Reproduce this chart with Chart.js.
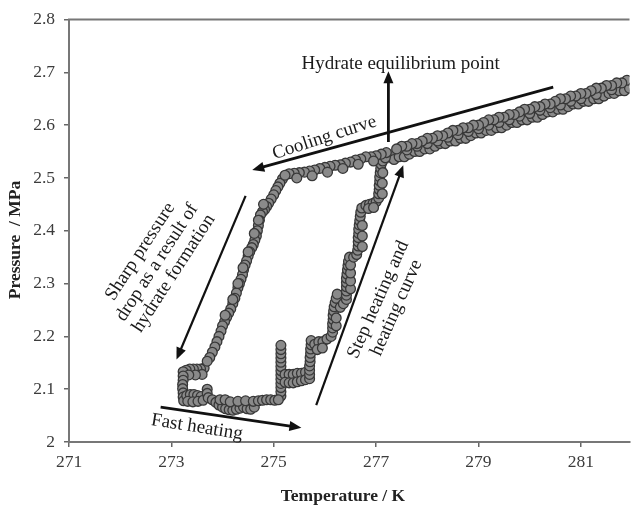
<!DOCTYPE html>
<html>
<head>
<meta charset="utf-8">
<script src="https://cdn.jsdelivr.net/npm/chart.js@4.4.1/dist/chart.umd.min.js"></script>
<style>
  body { margin: 0; background: #fff; }
  #chart { display: block; }
</style>
</head>
<body>
<canvas id="chart" width="637" height="507"></canvas>
<script>
// axis ticks
const xTicks = [271, 273, 275, 277, 279, 281];
const yTicks = [2, 2.1, 2.2, 2.3, 2.4, 2.5, 2.6, 2.7, 2.8];

// cooling: upper row of the band, then along 2.5 MPa to the corner
const coolingT = [281.9, 281.8, 281.7, 281.6, 281.5, 281.4, 281.3, 281.2, 281.1, 281.0,
  280.9, 280.8, 280.7, 280.6, 280.5, 280.4, 280.3, 280.2, 280.1, 280.0,
  279.9, 279.8, 279.7, 279.6, 279.5, 279.4, 279.3, 279.2, 279.1, 279.0,
  278.9, 278.8, 278.7, 278.6, 278.5, 278.4, 278.3, 278.2, 278.1, 278.0,
  277.9, 277.8, 277.7, 277.6, 277.5, 277.4,
  277.2, 277.1, 277.0, 276.9, 276.8, 276.7, 276.6, 276.5, 276.4, 276.3,
  276.2, 276.1, 276.0, 275.9, 275.8, 275.7, 275.6, 275.5, 275.4, 275.3, 275.22,
  276.95, 276.65, 276.35, 276.05, 275.75, 275.45];
const coolingP = [2.685, 2.68, 2.68, 2.675, 2.675, 2.67, 2.67, 2.665, 2.66, 2.66,
  2.655, 2.655, 2.65, 2.65, 2.645, 2.64, 2.64, 2.635, 2.635, 2.63,
  2.63, 2.625, 2.62, 2.62, 2.615, 2.615, 2.61, 2.61, 2.605, 2.6,
  2.6, 2.595, 2.595, 2.59, 2.59, 2.585, 2.58, 2.58, 2.575, 2.575,
  2.57, 2.565, 2.565, 2.56, 2.56, 2.555,
  2.548, 2.545, 2.542, 2.54, 2.54, 2.536, 2.534, 2.53, 2.528, 2.525,
  2.524, 2.522, 2.52, 2.518, 2.515, 2.513, 2.511, 2.51, 2.509, 2.508, 2.505,
  2.532, 2.526, 2.518, 2.511, 2.504, 2.5];

// sharp pressure drop (hydrate formation)
const dropT = [275.17, 275.12, 275.08, 275.04, 275.0, 274.95, 274.9, 274.86, 274.82, 274.78,
  274.74, 274.72, 274.7, 274.68, 274.66, 274.63, 274.6, 274.57, 274.53, 274.5,
  274.47, 274.44, 274.41, 274.39, 274.36, 274.33, 274.3, 274.27, 274.24, 274.2,
  274.16, 274.12, 274.08, 274.04, 274.0, 273.97, 273.93, 273.89, 273.85, 273.8,
  273.75, 273.7,
  274.8, 274.7, 274.62, 274.5, 274.4, 274.3, 274.2, 274.05];
const dropP = [2.498, 2.49, 2.483, 2.476, 2.468, 2.46, 2.452, 2.446, 2.44, 2.436,
  2.43, 2.42, 2.41, 2.4, 2.39, 2.382, 2.374, 2.368, 2.36, 2.352,
  2.343, 2.335, 2.326, 2.317, 2.308, 2.3, 2.292, 2.282, 2.272, 2.262,
  2.252, 2.244, 2.236, 2.228, 2.22, 2.21, 2.2, 2.19, 2.18, 2.17,
  2.16, 2.153,
  2.45, 2.42, 2.395, 2.36, 2.33, 2.3, 2.27, 2.24];

// low corner and fast heating along ~2.07 MPa
const fastT = [273.64, 273.57, 273.5, 273.43, 273.36, 273.29, 273.23,
  273.6, 273.47, 273.34,
  273.23, 273.23, 273.22, 273.22, 273.23, 273.23, 273.24,
  273.3, 273.37, 273.44, 273.51, 273.58,
  273.32, 273.42, 273.52, 273.62,
  273.7, 273.7, 273.72,
  273.8, 273.87, 273.93, 274.0, 274.06, 274.13, 274.2, 274.27, 274.34, 274.41, 274.48, 274.55, 274.62,
  273.95, 274.05, 274.15, 274.3, 274.45, 274.6, 274.7, 274.78, 274.86, 274.94, 275.02, 275.09];
const fastP = [2.14, 2.138, 2.138, 2.138, 2.138, 2.136, 2.133,
  2.128, 2.127, 2.127,
  2.125, 2.117, 2.109, 2.101, 2.093, 2.085, 2.078,
  2.088, 2.09, 2.09, 2.088, 2.086,
  2.077, 2.076, 2.077, 2.079,
  2.1, 2.092, 2.084,
  2.08, 2.075, 2.07, 2.066, 2.063, 2.061, 2.06, 2.062, 2.064, 2.066, 2.063, 2.062, 2.066,
  2.08, 2.08, 2.076, 2.077, 2.078, 2.077, 2.078, 2.079, 2.08, 2.08, 2.079, 2.08];

// step heating up to the equilibrium point
const stepT = [275.14, 275.14, 275.14, 275.14, 275.14, 275.14, 275.14, 275.14, 275.14, 275.14, 275.14, 275.14, 275.14,
  275.22, 275.3, 275.38, 275.46, 275.54, 275.62,
  275.22, 275.3, 275.38, 275.46, 275.54, 275.62,
  275.7, 275.7, 275.7, 275.7, 275.71, 275.71, 275.72, 275.72, 275.73, 275.73,
  275.8, 275.88, 275.96, 276.04, 276.12, 275.85, 275.95,
  276.15, 276.15, 276.15, 276.16, 276.16, 276.17, 276.18, 276.2, 276.22, 276.24, 276.22, 276.22,
  276.3, 276.36, 276.42, 276.42, 276.42, 276.42, 276.42, 276.42, 276.43, 276.44, 276.45, 276.46, 276.48,
  276.5, 276.5, 276.5, 276.5,
  276.56, 276.62, 276.64, 276.65, 276.65, 276.65, 276.66, 276.66, 276.67, 276.68, 276.69, 276.7, 276.72,
  276.73, 276.73, 276.73,
  276.8, 276.87, 276.94, 277.0, 276.85, 276.95,
  277.05, 277.05, 277.06, 277.06, 277.07, 277.07, 277.08, 277.09, 277.1, 277.13, 277.18,
  277.12, 277.12, 277.13];
const stepP = [2.087, 2.095, 2.103, 2.111, 2.119, 2.127, 2.135, 2.143, 2.151, 2.159, 2.167, 2.175, 2.183,
  2.128, 2.128, 2.128, 2.13, 2.13, 2.132,
  2.113, 2.112, 2.112, 2.114, 2.116, 2.118,
  2.12, 2.128, 2.136, 2.144, 2.152, 2.16, 2.168, 2.176, 2.184, 2.192,
  2.185, 2.19, 2.19, 2.195, 2.2, 2.175, 2.178,
  2.208, 2.216, 2.224, 2.232, 2.24, 2.248, 2.256, 2.264, 2.272, 2.28, 2.22, 2.235,
  2.255, 2.262, 2.27, 2.278, 2.286, 2.294, 2.302, 2.31, 2.318, 2.326, 2.334, 2.342, 2.35,
  2.29, 2.305, 2.32, 2.335,
  2.35, 2.355, 2.363, 2.371, 2.379, 2.387, 2.395, 2.403, 2.411, 2.419, 2.427, 2.435, 2.443,
  2.37, 2.39, 2.41,
  2.448, 2.45, 2.452, 2.455, 2.442, 2.444,
  2.462, 2.47, 2.478, 2.486, 2.494, 2.502, 2.51, 2.518, 2.526, 2.532, 2.538,
  2.47, 2.49, 2.51];

// heating curve: lower and middle rows of the band
const heatingT = [277.35, 277.45, 277.55, 277.65, 277.75, 277.85, 277.95, 278.05, 278.15, 278.25,
  278.35, 278.45, 278.55, 278.65, 278.75, 278.85, 278.95, 279.05, 279.15, 279.25,
  279.35, 279.45, 279.55, 279.65, 279.75, 279.85, 279.95, 280.05, 280.15, 280.25,
  280.35, 280.45, 280.55, 280.65, 280.75, 280.85, 280.95, 281.05, 281.15, 281.25,
  281.35, 281.45, 281.55, 281.65, 281.75, 281.85, 281.95,
  277.6, 277.8, 278.0, 278.2, 278.4, 278.6, 278.8, 279.0, 279.2, 279.4,
  279.6, 279.8, 280.0, 280.2, 280.4, 280.6, 280.8, 281.0, 281.3, 281.6];
const heatingP = [2.535, 2.54, 2.54, 2.545, 2.55, 2.55, 2.555, 2.555, 2.56, 2.565,
  2.565, 2.57, 2.57, 2.575, 2.575, 2.58, 2.585, 2.585, 2.59, 2.59,
  2.595, 2.595, 2.6, 2.605, 2.605, 2.61, 2.61, 2.615, 2.615, 2.62,
  2.625, 2.625, 2.63, 2.63, 2.635, 2.64, 2.64, 2.645, 2.645, 2.65,
  2.65, 2.655, 2.66, 2.66, 2.665, 2.665, 2.67,
  2.553, 2.56, 2.565, 2.57, 2.577, 2.582, 2.588, 2.593, 2.6, 2.605,
  2.61, 2.617, 2.622, 2.628, 2.633, 2.638, 2.645, 2.65, 2.658, 2.667];

// hydrate equilibrium point
const equilibriumT = [277.25];
const equilibriumP = [2.541];

// annotation arrows and labels, in data units
const arrows = [
  { from: [280.46, 2.672], to: [274.58, 2.515], width: 2.8 },
  { from: [277.24, 2.568], to: [277.24, 2.702], width: 2.8 },
  { from: [275.83, 2.070], to: [277.53, 2.524], width: 2.2 },
  { from: [272.79, 2.066], to: [275.54, 2.027], width: 2.8 },
  { from: [274.45, 2.466], to: [273.10, 2.156], width: 2.2 }
];
const notes = [
  { lines: ['Hydrate equilibrium point'], at: [277.48, 2.716], angle: 0 },
  { lines: ['Cooling curve'], at: [275.99, 2.576], angle: -18 },
  { lines: ['Sharp pressure', 'drop as a result of', 'hydrate formation'], at: [272.72, 2.34], angle: -57 },
  { lines: ['Step heating and', 'heating curve'], at: [277.22, 2.262], angle: -66 },
  { lines: ['Fast heating'], at: [273.5, 2.028], angle: 9 }
];

function pts(xs, ys) {
  return xs.map((x, i) => ({ x: x, y: ys[i] }));
}

const serif = '"Liberation Serif", "Times New Roman", serif';

const annotate = {
  id: 'annotate',
  afterDatasetsDraw(chart) {
    const ctx = chart.ctx;
    const xs = chart.scales.x;
    const ys = chart.scales.y;
    const area = chart.chartArea;
    ctx.save();

    // top frame line
    ctx.strokeStyle = '#777';
    ctx.lineWidth = 2;
    ctx.beginPath();
    ctx.moveTo(area.left - 1, area.top);
    ctx.lineTo(area.right, area.top);
    ctx.stroke();

    ctx.strokeStyle = '#111';
    ctx.fillStyle = '#111';
    arrows.forEach(a => {
      const x1 = xs.getPixelForValue(a.from[0]), y1 = ys.getPixelForValue(a.from[1]);
      const x2 = xs.getPixelForValue(a.to[0]), y2 = ys.getPixelForValue(a.to[1]);
      const ang = Math.atan2(y2 - y1, x2 - x1);
      const head = 12;
      ctx.lineWidth = a.width;
      ctx.beginPath();
      ctx.moveTo(x1, y1);
      ctx.lineTo(x2 - Math.cos(ang) * head * 0.8, y2 - Math.sin(ang) * head * 0.8);
      ctx.stroke();
      ctx.beginPath();
      ctx.moveTo(x2, y2);
      ctx.lineTo(x2 - head * Math.cos(ang) + 5 * Math.sin(ang), y2 - head * Math.sin(ang) - 5 * Math.cos(ang));
      ctx.lineTo(x2 - head * Math.cos(ang) - 5 * Math.sin(ang), y2 - head * Math.sin(ang) + 5 * Math.cos(ang));
      ctx.closePath();
      ctx.fill();
    });

    ctx.fillStyle = '#1a1a1a';
    ctx.font = '19px ' + serif;
    ctx.textAlign = 'center';
    ctx.textBaseline = 'middle';
    notes.forEach(n => {
      ctx.save();
      ctx.translate(xs.getPixelForValue(n.at[0]), ys.getPixelForValue(n.at[1]));
      ctx.rotate(n.angle * Math.PI / 180);
      n.lines.forEach((line, i) => {
        ctx.fillText(line, 0, (i - (n.lines.length - 1) / 2) * 20);
      });
      ctx.restore();
    });

    // axis titles
    ctx.font = 'bold 17.5px ' + serif;
    ctx.fillStyle = '#222';
    ctx.fillText('Temperature / K', 343, 496);
    ctx.save();
    ctx.translate(15, 240);
    ctx.rotate(-Math.PI / 2);
    ctx.fillText('Pressure  / MPa', 0, 0);
    ctx.restore();

    ctx.restore();
  }
};

const pointStyle = {
  showLine: false,
  pointRadius: 4.9,
  pointBackgroundColor: '#8a8a8a',
  pointBorderColor: '#383838',
  pointBorderWidth: 1.3
};

new Chart(document.getElementById('chart'), {
  type: 'scatter',
  data: {
    datasets: [
      Object.assign({ label: 'Cooling', data: pts(coolingT, coolingP) }, pointStyle),
      Object.assign({ label: 'Hydrate formation', data: pts(dropT, dropP) }, pointStyle),
      Object.assign({ label: 'Fast heating', data: pts(fastT, fastP) }, pointStyle),
      Object.assign({ label: 'Step heating', data: pts(stepT, stepP) }, pointStyle),
      Object.assign({ label: 'Heating', data: pts(heatingT, heatingP) }, pointStyle),
      {
        label: 'Equilibrium point',
        data: pts(equilibriumT, equilibriumP),
        pointRadius: 6.5,
        pointBackgroundColor: '#6f6f6f',
        pointBorderColor: '#6f6f6f',
        pointBorderWidth: 1
      }
    ]
  },
  options: {
    responsive: false,
    animation: false,
    devicePixelRatio: 1,
    layout: { padding: { top: 13, right: 0, left: 0, bottom: 0 } },
    plugins: {
      legend: { display: false },
      tooltip: { enabled: false }
    },
    scales: {
      x: {
        type: 'linear',
        min: 271,
        max: 281.95,
        afterBuildTicks: s => { s.ticks = xTicks.map(v => ({ value: v })); },
        afterFit: s => { s.height = 65; },
        grid: { drawOnChartArea: false, drawTicks: true, tickLength: 5, color: '#666', lineWidth: 1.5 },
        border: { color: '#777', width: 2 },
        ticks: { font: { family: serif, size: 17.5 }, color: '#3c3c3c', padding: 5, callback: v => v }
      },
      y: {
        type: 'linear',
        min: 2,
        max: 2.8,
        afterBuildTicks: s => { s.ticks = yTicks.map(v => ({ value: v })); },
        afterFit: s => { s.width = 69; },
        grid: { drawOnChartArea: false, drawTicks: true, tickLength: 5, color: '#666', lineWidth: 1.5 },
        border: { color: '#777', width: 2 },
        ticks: { font: { family: serif, size: 17.5 }, color: '#3c3c3c', padding: 9, callback: v => v }
      }
    }
  },
  plugins: [annotate]
});
</script>
</body>
</html>
